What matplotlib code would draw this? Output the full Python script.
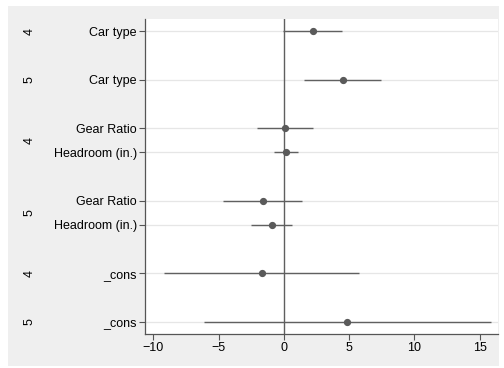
import matplotlib.pyplot as plt
from matplotlib.patches import Rectangle
from matplotlib.transforms import blended_transform_factory

# coefficient plot: two equations (4, 5) per variable
labels = ["Car type", "Car type", "Gear Ratio", "Headroom (in.)",
          "Gear Ratio", "Headroom (in.)", "_cons", "_cons"]
ypos = [0, 2, 4, 5, 7, 8, 10, 12]
coef = [2.24, 4.54, 0.07, 0.15, -1.63, -0.90, -1.68, 4.87]
ci_lo = [-0.05, 1.58, -2.02, -0.77, -4.64, -2.50, -9.16, -6.15]
ci_hi = [4.44, 7.47, 2.22, 1.07, 1.40, 0.66, 5.76, 15.84]

groups = ["4", "5", "4", "5", "4", "5"]
group_pos = [0, 2, 4.5, 7.5, 10, 12]

xticks = [-10, -5, 0, 5, 10, 15]

plt.rcParams["font.family"] = ["Liberation Sans", "DejaVu Sans"]
plt.rcParams["font.size"] = 9

fig = plt.figure(figsize=(5.04, 3.68), dpi=100, facecolor="white")
fig.patches.append(Rectangle((8 / 504, 2 / 368), 491 / 504, 360 / 368,
                             transform=fig.transFigure, facecolor="#efefef",
                             edgecolor="none", zorder=-1))
ax = fig.add_axes([145 / 504, 34 / 368, 353 / 504, 315 / 368])
ax.set_facecolor("white")

for y in ypos:
    ax.axhline(y, color="#e6e6e6", lw=0.9, zorder=0)
ax.axvline(0, color="#5f5f5f", lw=1.0, zorder=1)

ax.hlines(ypos, ci_lo, ci_hi, color="#606060", lw=1.0, zorder=2)
ax.plot(coef, ypos, "o", color="#5a5a5a", ms=4.2, zorder=3)

ax.set_xlim(-10.63, 16.4)
ax.set_ylim(12.5, -0.5)
ax.set_xticks(xticks)
ax.set_xticklabels([str(t).replace("-", "\u2212") for t in xticks])
ax.set_yticks(ypos)
ax.set_yticklabels(labels)

for s in ["top", "right"]:
    ax.spines[s].set_visible(False)
for s in ["left", "bottom"]:
    ax.spines[s].set_color("#555555")
    ax.spines[s].set_linewidth(0.9)
ax.tick_params(length=4, width=0.8, color="#555555", labelcolor="black",
               labelsize=9, pad=2)

tr = blended_transform_factory(fig.transFigure, ax.transData)
for g, p in zip(groups, group_pos):
    ax.text(30 / 504, p, g, transform=tr, rotation=90, ha="center",
            va="center", fontsize=9)

fig.savefig("out.png", dpi=100, facecolor=fig.get_facecolor())
